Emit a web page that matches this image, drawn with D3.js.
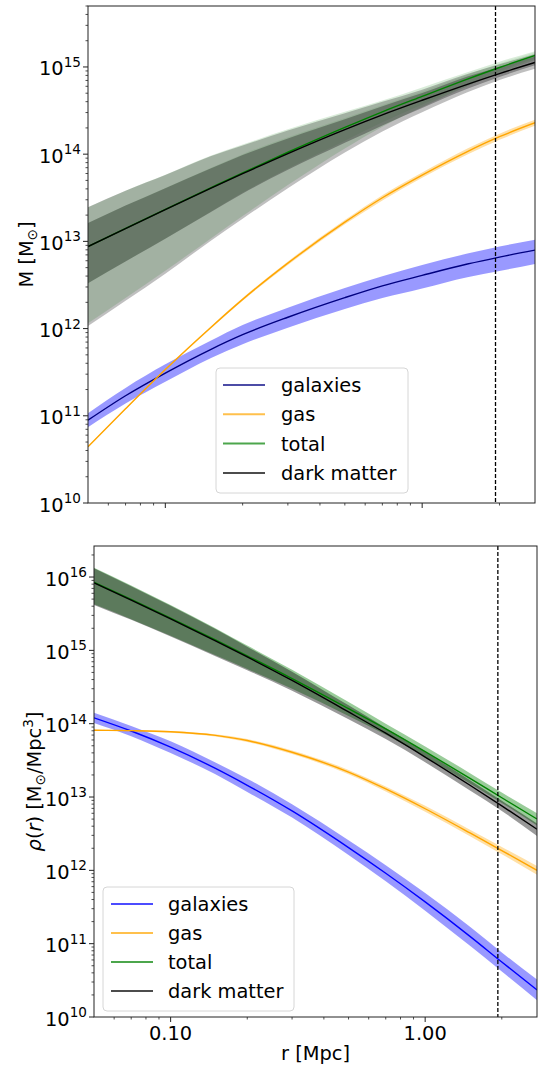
<!DOCTYPE html>
<html><head><meta charset="utf-8">
<script src="https://cdn.jsdelivr.net/npm/d3@7"></script>
<style>
body{margin:0;background:#fff}
svg{display:block}
text{font-family:"DejaVu Sans",sans-serif;fill:#000}
</style>
</head><body>
<svg id="c" width="539" height="1068"></svg>
<script>
// ---------- data (stored as log10) ----------
const radius = [0.05,0.07,0.1,0.15,0.2,0.3,0.5,0.7,1.0,1.5,2.0,2.75];   // Mpc
const r200 = 1.93;

// enclosed mass, log10 M [Msun]
const massGalaxies   = [10.95,11.23,11.49,11.76,11.93,12.13,12.355,12.49,12.61,12.74,12.82,12.90];
const massGalaxiesHi = [11.03,11.32,11.59,11.86,12.04,12.24,12.465,12.60,12.73,12.86,12.94,13.02];
const massGalaxiesLo = [10.87,11.14,11.39,11.66,11.82,12.01,12.225,12.35,12.46,12.59,12.66,12.74];
const massGas   = [10.645,11.08,11.53,12.01,12.335,12.75,13.22,13.50,13.76,14.03,14.20,14.36];
const massGasHi = [10.65,11.088,11.54,12.022,12.35,12.77,13.245,13.53,13.79,14.065,14.235,14.395];
const massGasLo = [10.64,11.072,11.52,11.998,12.32,12.73,13.195,13.47,13.73,13.995,14.165,14.325];
const massDM     = [12.94,13.147,13.364,13.607,13.776,14.007,14.282,14.451,14.618,14.801,14.924,15.051];
const massDMHi95 = [13.39,13.58,13.76,13.975,14.10,14.27,14.47,14.60,14.74,14.92,15.03,15.15];
const massDMHi68 = [13.21,13.41,13.61,13.835,13.99,14.18,14.40,14.55,14.70,14.89,15.00,15.12];
const massDMLo68 = [12.52,12.77,13.03,13.335,13.55,13.82,14.13,14.33,14.53,14.75,14.885,15.02];
const massDMLo95 = [12.03,12.32,12.63,13.005,13.26,13.61,14.02,14.26,14.48,14.71,14.85,14.98];
const massTotal     = [12.94,13.148,13.367,13.613,13.786,14.022,14.307,14.486,14.663,14.861,14.994,15.131];
const massTotalHi95 = [13.39,13.581,13.763,13.981,14.11,14.285,14.485,14.615,14.765,14.94,15.06,15.18];
const massTotalHi68 = [13.21,13.411,13.613,13.841,14.00,14.195,14.415,14.565,14.72,14.91,15.04,15.17];
const massTotalLo68 = [12.52,12.771,13.033,13.341,13.56,13.835,14.155,14.365,14.57,14.80,14.95,15.10];
const massTotalLo95 = [12.06,12.351,12.663,13.031,13.29,13.645,14.065,14.315,14.54,14.78,14.93,15.08];

// density, log10 rho [Msun/Mpc^3]
const densGalaxies   = [14.08,13.90,13.68,13.39,13.16,12.81,12.31,11.96,11.57,11.10,10.75,10.37];
const densGalaxiesHi = [14.15,13.97,13.76,13.47,13.25,12.90,12.41,12.07,11.69,11.23,10.88,10.51];
const densGalaxiesLo = [14.01,13.83,13.60,13.31,13.07,12.72,12.21,11.85,11.45,10.97,10.62,10.23];
const densGas   = [13.91,13.905,13.89,13.84,13.77,13.61,13.34,13.11,12.84,12.51,12.27,12.00];
const densGasHi = [13.92,13.915,13.902,13.855,13.79,13.635,13.37,13.145,12.88,12.555,12.32,12.06];
const densGasLo = [13.90,13.895,13.878,13.825,13.75,13.585,13.31,13.075,12.80,12.465,12.22,11.94];
const densDM   = [15.92,15.686,15.43,15.13,14.91,14.59,14.16,13.87,13.545,13.16,12.88,12.56];
const densDMHi = [16.12,15.876,15.61,15.29,15.05,14.71,14.25,13.94,13.615,13.23,12.95,12.64];
const densDMLo = [15.62,15.416,15.19,14.92,14.73,14.45,14.06,13.79,13.475,13.09,12.81,12.47];
const densTotal   = [15.928,15.696,15.44,15.142,14.925,14.615,14.205,13.93,13.62,13.255,12.99,12.70];
const densTotalHi = [16.128,15.886,15.62,15.302,15.065,14.735,14.295,14.00,13.69,13.325,13.06,12.78];
const densTotalLo = [15.628,15.426,15.20,14.932,14.745,14.475,14.105,13.85,13.55,13.185,12.92,12.61];

const legendLabels = ["galaxies","gas","total","dark matter"];
const xTickValues = [0.1, 1.0];
const xTickLabels = ["0.10","1.00"];

// ---------- drawing ----------
const svg = d3.select("#c");
const p10 = v => Math.pow(10, v);
const FONT = 19.4;
const SUP = 13.6;

function panel(box, yDomain) {
  const x = d3.scaleLog().domain([0.05, 2.75]).range([box.l, box.r]);
  const y = d3.scaleLog().domain(yDomain).range([box.b, box.t]);
  const g = svg.append("g");
  const clipId = "clip" + box.t;
  svg.append("clipPath").attr("id", clipId).append("rect")
     .attr("x", box.l).attr("y", box.t).attr("width", box.r - box.l).attr("height", box.b - box.t);
  const plot = g.append("g").attr("clip-path", `url(#${clipId})`);
  return {x, y, g, plot, box};
}

function band(P, lo, hi, fill, op) {
  const a = d3.area().curve(d3.curveMonotoneX)
    .x((d, i) => P.x(radius[i])).y0((d, i) => P.y(p10(lo[i]))).y1((d, i) => P.y(p10(hi[i])));
  P.plot.append("path").attr("d", a(radius)).attr("fill", fill).attr("fill-opacity", op).attr("stroke", "none");
}
function line(P, vals, color, w) {
  const l = d3.line().curve(d3.curveMonotoneX)
    .x((d, i) => P.x(radius[i])).y((d, i) => P.y(p10(vals[i])));
  P.plot.append("path").attr("d", l(radius)).attr("fill", "none").attr("stroke", color).attr("stroke-width", w || 1.4);
}

function axes(P, expMin, expMax, showXLabels) {
  const {x, y, g, box} = P;
  P.plot.append("line").attr("x1", x(r200)).attr("x2", x(r200)).attr("y1", box.t).attr("y2", box.b)
    .attr("stroke", "#000").attr("stroke-width", 1.3).attr("stroke-dasharray", "4,2");
  g.append("rect").attr("x", box.l).attr("y", box.t).attr("width", box.r - box.l).attr("height", box.b - box.t)
    .attr("fill", "none").attr("stroke", "#222").attr("stroke-width", 1);
  const yMax = y.domain()[1];
  for (let e = expMin; e <= expMax; e++) {
    for (let m = 1; m <= 9; m++) {
      const v = m * Math.pow(10, e);
      if (v > yMax) continue;
      const yy = y(v);
      g.append("line").attr("x1", box.l).attr("x2", box.l - (m === 1 ? 5 : 2.5)).attr("y1", yy).attr("y2", yy)
        .attr("stroke", "#222").attr("stroke-width", m === 1 ? 1 : 0.8);
      if (m === 1) {
        const t = g.append("text").attr("x", box.l - 7).attr("y", yy + 8.5).attr("text-anchor", "end").attr("font-size", FONT);
        t.append("tspan").text("10");
        t.append("tspan").attr("dy", -8.5).attr("font-size", SUP).text(String(e));
      }
    }
  }
  const xt = [0.06,0.07,0.08,0.09,0.1,0.2,0.3,0.4,0.5,0.6,0.7,0.8,0.9,1,2];
  xt.forEach(v => {
    const major = (v === 0.1 || v === 1);
    g.append("line").attr("x1", x(v)).attr("x2", x(v)).attr("y1", box.b).attr("y2", box.b + (major ? 5 : 2.5))
      .attr("stroke", "#222").attr("stroke-width", major ? 1 : 0.8);
  });
  if (showXLabels) {
    xTickValues.forEach((v, i) => {
      g.append("text").attr("x", x(v)).attr("y", box.b + 23).attr("text-anchor", "middle").attr("font-size", FONT).text(xTickLabels[i]);
    });
  }
}

function legend(box, colors, op) {
  const g = svg.append("g");
  g.append("rect").attr("x", box.x).attr("y", box.y).attr("width", box.w).attr("height", box.h).attr("rx", 4)
    .attr("fill", "#fff").attr("fill-opacity", 0.8).attr("stroke", "#d6d6d6").attr("stroke-width", 1);
  legendLabels.forEach((lab, i) => {
    const yy = box.y0 + i * box.dy;
    g.append("line").attr("x1", box.lx).attr("x2", box.lx + 42).attr("y1", yy).attr("y2", yy)
      .attr("stroke", colors[i]).attr("stroke-opacity", op).attr("stroke-width", 2);
    g.append("text").attr("x", box.tx).attr("y", yy + 7).attr("font-size", FONT).text(lab);
  });
}

// ---------- top panel: mass ----------
const T = panel({l: 88, r: 535, t: 6, b: 503}, [1e10, 5e15]);
band(T, massGalaxiesLo, massGalaxiesHi, "#0000ff", 0.4);
band(T, massGasLo, massGasHi, "#ffa500", 0.35);
band(T, massTotalLo95, massTotalHi95, "#008000", 0.15);
band(T, massDMLo95, massDMHi95, "#000", 0.25);
band(T, massTotalLo68, massTotalHi68, "#008000", 0.08);
band(T, massDMLo68, massDMHi68, "#000", 0.3);
line(T, massGalaxies, "#000080");
line(T, massGas, "#ffa500");
line(T, massTotal, "#008000");
line(T, massDM, "#000");
axes(T, 10, 15, false);
legend({x: 216, y: 368, w: 192, h: 125, y0: 385, dy: 29.3, lx: 223, tx: 281},
       ["#000080", "#ffa500", "#008000", "#000"], 0.7);

// ---------- bottom panel: density ----------
const B = panel({l: 94, r: 537, t: 546, b: 1017}, [1e10, 2.65e16]);
band(B, densGalaxiesLo, densGalaxiesHi, "#0000ff", 0.4);
band(B, densGasLo, densGasHi, "#ffa500", 0.35);
band(B, densTotalLo, densTotalHi, "#008000", 0.4);
band(B, densDMLo, densDMHi, "#000", 0.4);
line(B, densGalaxies, "#0000ff");
line(B, densGas, "#ffa500");
line(B, densTotal, "#008000");
line(B, densDM, "#000");
axes(B, 10, 16, true);
legend({x: 103, y: 887, w: 191, h: 124, y0: 904, dy: 29, lx: 111, tx: 168},
       ["#0000ff", "#ffa500", "#008000", "#000"], 0.7);

// ---------- axis labels ----------
const yl1 = svg.append("text").attr("transform", "translate(33,254.5) rotate(-90)")
  .attr("text-anchor", "middle").attr("font-size", FONT);
yl1.append("tspan").text("M [M");
yl1.append("tspan").attr("font-size", SUP).attr("dy", 4).text("⊙");
yl1.append("tspan").attr("dy", -4).text("]");

const yl2 = svg.append("text").attr("transform", "translate(41,781.5) rotate(-90)")
  .attr("text-anchor", "middle").attr("font-size", FONT);
yl2.append("tspan").attr("font-style", "italic").text("ρ");
yl2.append("tspan").text("(");
yl2.append("tspan").attr("font-style", "italic").text("r");
yl2.append("tspan").text(") [M");
yl2.append("tspan").attr("font-size", SUP).attr("dy", 4).text("⊙");
yl2.append("tspan").attr("dy", -4).text("/Mpc");
yl2.append("tspan").attr("font-size", SUP).attr("dy", -8).text("3");
yl2.append("tspan").attr("dy", 8).text("]");

svg.append("text").attr("x", 315.5).attr("y", 1060).attr("text-anchor", "middle").attr("font-size", FONT).text("r [Mpc]");
</script>
</body></html>
